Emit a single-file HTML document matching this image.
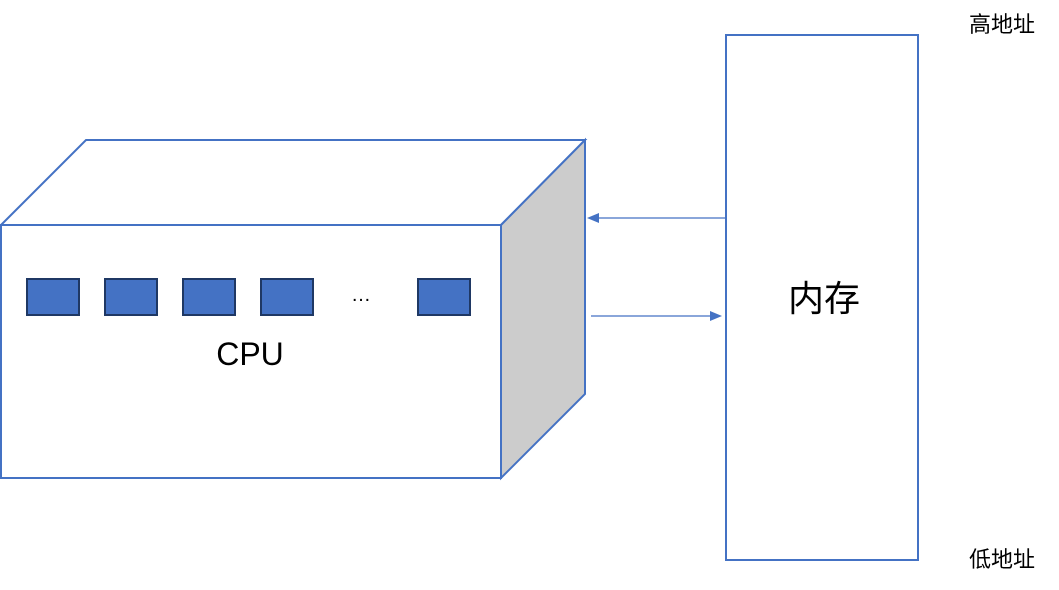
<!DOCTYPE html>
<html><head><meta charset="utf-8"><style>
html,body{margin:0;padding:0;background:#fff;width:1059px;height:590px;overflow:hidden}
svg text{font-family:"Liberation Sans","Noto Sans CJK SC",sans-serif;fill:#000}
</style></head><body>
<svg width="1059" height="590" viewBox="0 0 1059 590" xmlns="http://www.w3.org/2000/svg">
<polygon points="1,225 86,140 585,140 501,225" fill="#fff" stroke="#4472C4" stroke-width="2"/>
<polygon points="501,225 585,140 585,394 501,478" fill="#CCCCCC" stroke="#4472C4" stroke-width="2"/>
<rect x="1" y="225" width="500" height="253" fill="#fff" stroke="#4472C4" stroke-width="2"/>
<g fill="#4472C4" stroke="#1F3864" stroke-width="2">
<rect x="27" y="279" width="52" height="36"/>
<rect x="105" y="279" width="52" height="36"/>
<rect x="183" y="279" width="52" height="36"/>
<rect x="261" y="279" width="52" height="36"/>
<rect x="418" y="279" width="52" height="36"/>
</g>
<text x="361" y="301" font-size="20" text-anchor="middle">…</text>
<text x="250" y="365" font-size="32" text-anchor="middle">CPU</text>
<rect x="726" y="35" width="192" height="525" fill="#fff" stroke="#4472C4" stroke-width="2"/>
<text x="824" y="311" font-size="36" text-anchor="middle">内存</text>
<line x1="726" y1="218" x2="596" y2="218" stroke="#4472C4" stroke-width="1.3"/>
<polygon points="587,218 599,213 599,223" fill="#4472C4"/>
<line x1="591" y1="316" x2="712" y2="316" stroke="#4472C4" stroke-width="1.3"/>
<polygon points="722,316 710,311 710,321" fill="#4472C4"/>
<text x="1002" y="32" font-size="22" text-anchor="middle">高地址</text>
<text x="1002" y="567" font-size="22" text-anchor="middle">低地址</text>
</svg>
</body></html>
